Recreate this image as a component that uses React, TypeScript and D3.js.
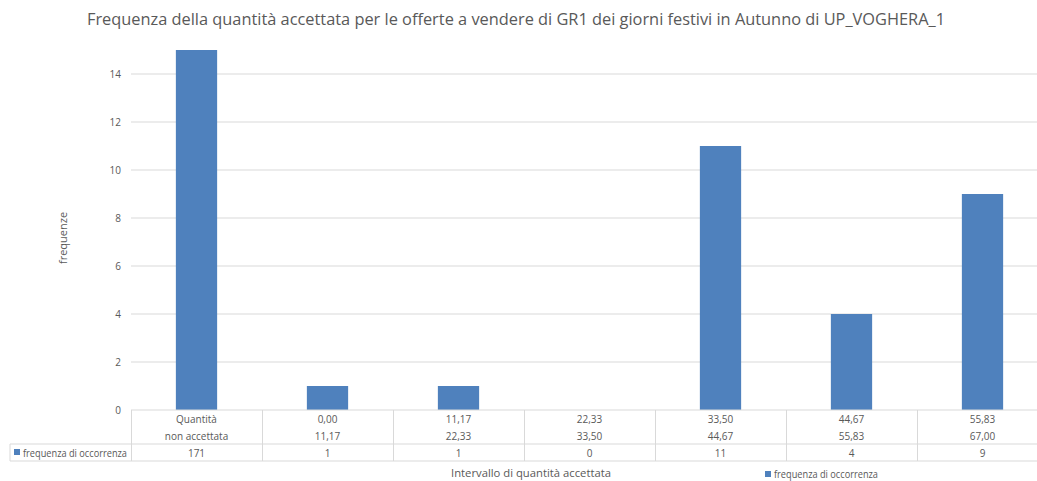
import React from "react";
import * as d3 from "d3";

const TITLE = "Frequenza della quantità accettata per le offerte a vendere di GR1 dei giorni festivi in Autunno di UP_VOGHERA_1";
const SERIES_NAME = "frequenza di occorrenza";
const Y_LABEL = "frequenze";
const X_LABEL = "Intervallo di quantità accettata";
const catLine1 = ["Quantità", "0,00", "11,17", "22,33", "33,50", "44,67", "55,83"];
const catLine2 = ["non accettata", "11,17", "22,33", "33,50", "44,67", "55,83", "67,00"];
const values = [171, 1, 1, 0, 11, 4, 9];
const yTicks = [0, 2, 4, 6, 8, 10, 12, 14];
const Y_MAX = 15;

const W = 1037;
const H = 481;
const FONT = "'Open Sans', 'Noto Sans', sans-serif";
const BLUE = "#4f81bd";
const TXT = "#595959";
const GRID = "#d9d9d9";

export default function App() {
  const left = 131;
  const right = 1048;
  const top = 50;
  const bottom = 410;
  const x = d3.scaleBand<number>().domain(d3.range(values.length)).range([left, right]);
  const y = d3.scaleLinear().domain([0, Y_MAX]).range([bottom, top]);
  const bw = x.bandwidth() * 0.315;
  const row1 = 419;
  const row2 = 436;
  const row3 = 453;
  const tBottom = 461;
  const tSep = 444;
  return (
    <svg width={W} height={H} style={{ position: "absolute", left: 0, top: 0, background: "#fff" }} fontFamily={FONT}>
      <rect x={0} y={0} width={W} height={H} fill="#fff" />
      <text x={516} y={25} textAnchor="middle" fontSize={16} fill={TXT} textLength={858} lengthAdjust="spacingAndGlyphs">{TITLE}</text>
      {yTicks.map((t) => (
        <g key={t}>
          {t > 0 && <line x1={left} x2={W} y1={y(t)} y2={y(t)} stroke={GRID} strokeWidth={1} />}
          <text x={121} y={y(t) + 3.5} textAnchor="end" fontSize={10} fill={TXT}>{t}</text>
        </g>
      ))}
      <text transform={`translate(67,238) rotate(-90)`} textAnchor="middle" fontSize={11} fill={TXT}>{Y_LABEL}</text>
      {values.map((v, i) => (
        <rect key={i} x={(x(i) as number) + x.bandwidth() / 2 - bw / 2} y={y(Math.min(v, Y_MAX))} width={bw} height={y(0) - y(Math.min(v, Y_MAX))} fill={BLUE} />
      ))}
      {/* table */}
      <line x1={left} x2={W} y1={bottom} y2={bottom} stroke={GRID} />
      <line x1={10} x2={W} y1={tSep} y2={tSep} stroke={GRID} />
      <line x1={10} x2={W} y1={tBottom} y2={tBottom} stroke={GRID} />
      <line x1={10} x2={10} y1={tSep} y2={tBottom} stroke={GRID} />
      {values.map((v, i) => (
        <line key={"v" + i} x1={Math.round(x(i) as number) + 0.5} x2={Math.round(x(i) as number) + 0.5} y1={bottom} y2={tBottom} stroke={GRID} />
      ))}
      {values.map((v, i) => {
        const cx = (x(i) as number) + x.bandwidth() / 2;
        return (
          <g key={"t" + i} fontSize={10} fill={TXT} textAnchor="middle">
            <text x={cx} y={row1 + 3.5}>{catLine1[i]}</text>
            <text x={cx} y={row2 + 3.5}>{catLine2[i]}</text>
            <text x={cx} y={row3 + 3.5}>{v}</text>
          </g>
        );
      })}
      <rect x={14} y={449} width={6} height={6} fill={BLUE} />
      <text x={23} y={row3 + 3.5} fontSize={10} fill={TXT} textLength={104} lengthAdjust="spacingAndGlyphs">{SERIES_NAME}</text>
      <text x={531} y={477} textAnchor="middle" fontSize={11} fill={TXT} textLength={160} lengthAdjust="spacingAndGlyphs">{X_LABEL}</text>
      <rect x={765} y={471} width={6} height={6} fill={BLUE} />
      <text x={774} y={478} fontSize={10} fill={TXT} textLength={104} lengthAdjust="spacingAndGlyphs">{SERIES_NAME}</text>
    </svg>
  );
}
